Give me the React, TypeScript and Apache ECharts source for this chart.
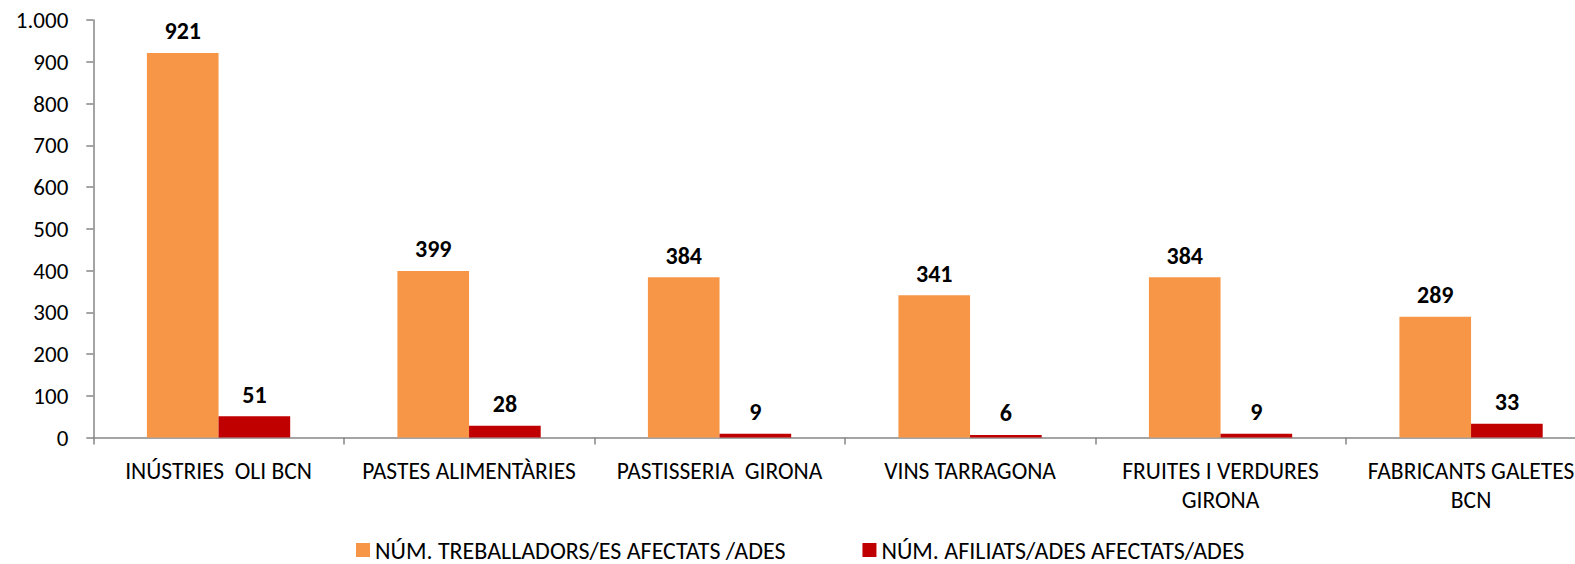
import React, { useEffect, useRef } from "react";
import * as echarts from "echarts";

const categories = [
  "INÚSTRIES  OLI BCN",
  "PASTES ALIMENTÀRIES",
  "PASTISSERIA  GIRONA",
  "VINS TARRAGONA",
  "FRUITES I VERDURES\nGIRONA",
  "FABRICANTS GALETES\nBCN",
];
const seriesNames = ["NÚM. TREBALLADORS/ES AFECTATS /ADES", "NÚM. AFILIATS/ADES AFECTATS/ADES"];
const treballadors = [921, 399, 384, 341, 384, 289];
const afiliats = [51, 28, 9, 6, 9, 33];
const yMin = 0;
const yMax = 1000;
const yInterval = 100;

const FONT = "Carlito, Calibri, Lato, sans-serif";

export default function App() {
  const ref = useRef<HTMLDivElement>(null);
  useEffect(() => {
    if (!ref.current) return;
    const chart = echarts.init(ref.current, undefined, { renderer: "svg" });
    const labelStyle = {
      show: true,
      position: "top" as const,
      distance: 10,
      fontFamily: FONT,
      fontWeight: "bold" as const,
      fontSize: 24,
      color: "#000",
    };
    chart.setOption({
      animation: false,
      backgroundColor: "#fff",
      textStyle: { fontFamily: FONT },
      grid: {
        left: 93.3,
        right: -21.3,
        top: 20,
        bottom: 126.5,
        containLabel: false,
        outerBoundsMode: "none",
      },
      legend: {
        left: 356,
        top: 538,
        padding: 0,
        itemWidth: 14,
        itemHeight: 14,
        itemGap: 77,
        icon: "rect",
        textStyle: { fontFamily: FONT, fontSize: 24, lineHeight: 22, color: "#000" },
        data: seriesNames,
      },
      xAxis: {
        type: "category",
        data: categories,
        axisLine: { show: true, lineStyle: { color: "#868686", width: 1.5 } },
        axisTick: { show: true, length: 7, alignWithLabel: false, lineStyle: { color: "#868686", width: 1.5 } },
        axisLabel: {
          interval: 0,
          margin: 19,
          fontFamily: FONT,
          fontSize: 23.5,
          lineHeight: 29,
          color: "#000",
        },
        splitLine: { show: false },
      },
      yAxis: {
        type: "value",
        min: yMin,
        max: yMax,
        interval: yInterval,
        axisLine: { show: true, lineStyle: { color: "#868686", width: 1.5 } },
        axisTick: { show: true, length: 7, lineStyle: { color: "#868686", width: 1.5 } },
        splitLine: { show: false },
        axisLabel: {
          margin: 25,
          fontFamily: FONT,
          fontSize: 23,
          color: "#000",
          formatter: (v: number) => String(v).replace(/\B(?=(\d{3})+(?!\d))/g, "."),
        },
      },
      series: [
        {
          name: seriesNames[0],
          type: "bar",
          data: treballadors,
          barGap: "0%",
          barCategoryGap: "42.8%",
          itemStyle: { color: "#F79646" },
          label: labelStyle,
        },
        {
          name: seriesNames[1],
          type: "bar",
          data: afiliats,
          barGap: "0%",
          barCategoryGap: "42.8%",
          itemStyle: { color: "#C00000" },
          label: labelStyle,
        },
      ],
    });
    return () => chart.dispose();
  }, []);
  return (
    <div
      ref={ref}
      style={{ position: "absolute", left: 0, top: 0, width: 1575, height: 564, overflow: "hidden" }}
    />
  );
}
